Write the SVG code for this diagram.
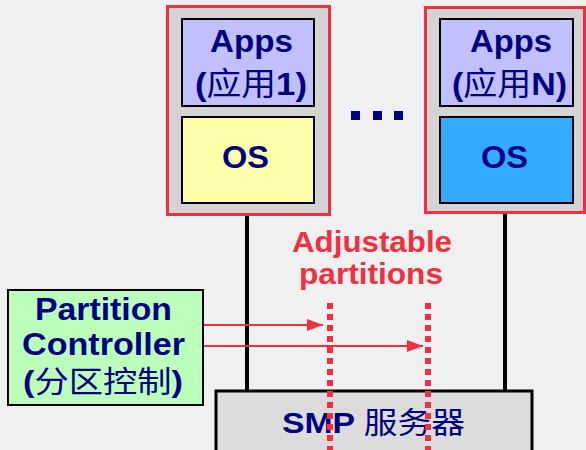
<svg xmlns="http://www.w3.org/2000/svg" width="586" height="450" viewBox="0 0 586 450">
<defs>
<style>
.t{font-family:"Liberation Sans",Arial,"Noto Sans CJK SC",sans-serif;font-weight:bold;fill:#000080;text-anchor:middle}
.cjk{font-family:"Noto Sans CJK SC","Liberation Sans",sans-serif;font-weight:normal}
.outer{fill:#d4d4d4;stroke:#f03040;stroke-width:3}
.box{stroke:#000;stroke-width:2}
.arrow{stroke:#f03040;stroke-width:2;fill:none}
.dot{stroke:#f03040;stroke-width:6;stroke-dasharray:6 5;fill:none}
</style>
<marker id="ah2" viewBox="0 0 10 10" refX="10" refY="5" markerWidth="16" markerHeight="12" markerUnits="userSpaceOnUse" orient="auto" preserveAspectRatio="none">
<path d="M0,0 L10,5 L0,10 z" fill="#f03040"/>
</marker>
</defs>
<rect width="586" height="450" fill="#f0f0f0"/>
<g id="connectors">
<line x1="247" y1="215" x2="247" y2="391" stroke="#000" stroke-width="4"/>
<line x1="505" y1="213" x2="505" y2="391" stroke="#000" stroke-width="4"/>
<line class="arrow" x1="203" y1="325" x2="323" y2="325" marker-end="url(#ah2)"/>
<line class="arrow" x1="203" y1="346" x2="423" y2="346" marker-end="url(#ah2)"/>
</g>
<g id="partition1">
<rect class="outer" x="167.5" y="6.5" width="162" height="208"/>
<rect class="box" x="182" y="19" width="132" height="87" fill="#c0c0ff"/>
<text class="t" x="251.5" y="52" font-size="32" textLength="83" lengthAdjust="spacingAndGlyphs">Apps</text>
<text class="t" x="251" y="95" font-size="32" textLength="112" lengthAdjust="spacingAndGlyphs">(<tspan class="cjk">应用</tspan>1)</text>
<rect class="box" x="182" y="117" width="132" height="86" fill="#ffffaa"/>
<text class="t" x="245.5" y="168" font-size="32" textLength="47" lengthAdjust="spacingAndGlyphs">OS</text>
</g>
<g id="ellipsis" fill="#000080">
<rect x="351" y="111" width="9" height="9"/>
<rect x="373" y="111" width="9" height="9"/>
<rect x="394" y="111" width="9" height="9"/>
</g>
<g id="partitionN">
<rect class="outer" x="425.5" y="7.5" width="159" height="205"/>
<rect class="box" x="440" y="19" width="133" height="87" fill="#c0c0ff"/>
<text class="t" x="511" y="52" font-size="32" textLength="82" lengthAdjust="spacingAndGlyphs">Apps</text>
<text class="t" x="509.5" y="95" font-size="32" textLength="115" lengthAdjust="spacingAndGlyphs">(<tspan class="cjk">应用</tspan>N)</text>
<rect class="box" x="440" y="117" width="133" height="86" fill="#33aaff"/>
<text class="t" x="504.5" y="168" font-size="32" textLength="47" lengthAdjust="spacingAndGlyphs">OS</text>
</g>
<g id="label">
<text class="t" x="372" y="252" font-size="30" style="fill:#f03040" textLength="160" lengthAdjust="spacingAndGlyphs">Adjustable</text>
<text class="t" x="371" y="284" font-size="30" style="fill:#f03040" textLength="144" lengthAdjust="spacingAndGlyphs">partitions</text>
</g>
<g id="controller">
<rect class="box" x="8" y="290" width="195" height="115" fill="#bbffbb"/>
<text class="t" x="103.5" y="320" font-size="31" textLength="137" lengthAdjust="spacingAndGlyphs">Partition</text>
<text class="t" x="103.5" y="355" font-size="31" textLength="163" lengthAdjust="spacingAndGlyphs">Controller</text>
<text class="t" x="103" y="392" font-size="30" textLength="160" lengthAdjust="spacingAndGlyphs">(<tspan class="cjk">分区控制</tspan>)</text>
</g>
<g id="smp">
<rect x="216" y="391" width="316" height="62" fill="#dcdcdc" stroke="#000" stroke-width="3"/>
<text class="t" x="373.5" y="433" font-size="30" textLength="183" lengthAdjust="spacingAndGlyphs">SMP <tspan class="cjk">服务器</tspan></text>
</g>
<g id="dotted">
<line class="dot" x1="330" y1="303" x2="330" y2="450"/>
<line class="dot" x1="428" y1="303" x2="428" y2="450"/>
</g>
</svg>
